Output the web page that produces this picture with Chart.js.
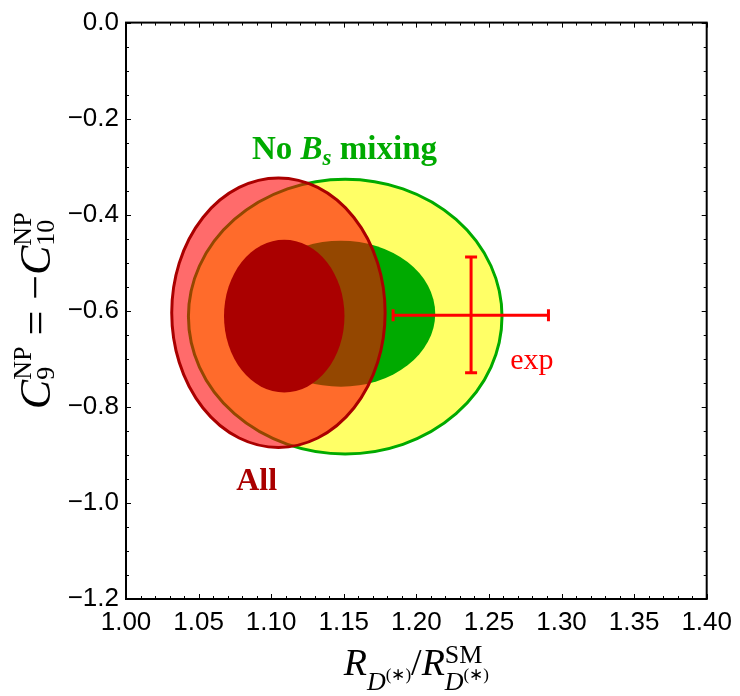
<!DOCTYPE html>
<html>
<head>
<meta charset="utf-8">
<script src="https://cdn.jsdelivr.net/npm/chart.js"></script>
<style>
  body { margin: 0; background: #fff; }
  canvas { display: block; }
</style>
</head>
<body>
<canvas id="regionsChart" width="740" height="696"></canvas>
<script>
// --- data (axis units) ---

// regions: No Bs mixing (2 sigma, 1 sigma), All (2 sigma, 1 sigma)
const regionNames = ['No Bs mixing 2σ', 'No Bs mixing 1σ', 'All 2σ', 'All 1σ']
const regionCentreX = [1.151, 1.148, 1.105, 1.109]
const regionCentreY = [-0.612, -0.606, -0.604, -0.611]
const regionHalfX = [0.108, 0.065, 0.0735, 0.0415]
const regionHalfY = [0.286, 0.152, 0.2805, 0.159]

// experimental point: [low, central, high]
const expX = [1.184, 1.2377, 1.291]
const expY = [-0.729, -0.6095, -0.488]

const xTickLabels = ['1.00', '1.05', '1.10', '1.15', '1.20', '1.25', '1.30', '1.35', '1.40']
const yTickLabels = ['−1.2', '−1.0', '−0.8', '−0.6', '−0.4', '−0.2', '0.0']

// --- styles ---
const regionFill = ['rgb(255,255,102)', 'rgb(0,170,0)', 'rgba(255,0,0,0.58)', 'rgb(170,0,0)']
const regionEdge = ['rgb(0,170,0)', null, 'rgb(170,0,0)', null]
const expColor = 'rgb(255,0,0)'
const serif = '"Liberation Serif", "Times New Roman", serif'

function findLabel(labels, v) {
  const l = labels.find((s) => Math.abs(parseFloat(s.replace('−', '-')) - v) < 1e-6)
  return l || ''
}

// rich text: parts are {t, f, dy} or {stack: [parts, parts]}
function partsWidth(ctx, parts) {
  let w = 0
  for (const p of parts) {
    if (p.stack) {
      w += Math.max(...p.stack.map((s) => partsWidth(ctx, s)))
    } else {
      ctx.font = p.f
      w += ctx.measureText(p.t).width
    }
  }
  return w
}

function drawParts(ctx, parts, x, y) {
  for (const p of parts) {
    if (p.stack) {
      p.stack.forEach((s) => drawParts(ctx, s, x, y))
      x += Math.max(...p.stack.map((s) => partsWidth(ctx, s)))
    } else {
      ctx.font = p.f
      ctx.fillText(p.t, x, y + (p.dy || 0))
      x += ctx.measureText(p.t).width
    }
  }
}

function drawRich(ctx, parts, x, y, align) {
  const w = partsWidth(ctx, parts)
  ctx.textBaseline = 'alphabetic'
  ctx.textAlign = 'left'
  drawParts(ctx, parts, align === 'center' ? x - w / 2 : x, y)
}

const regionsPlugin = {
  id: 'regions',
  beforeDatasetsDraw(chart) {
    const { ctx, chartArea: a, scales: { x, y } } = chart
    ctx.save()
    ctx.beginPath()
    ctx.rect(a.left, a.top, a.width, a.height)
    ctx.clip()
    regionNames.forEach((name, i) => {
      const cx = x.getPixelForValue(regionCentreX[i])
      const cy = y.getPixelForValue(regionCentreY[i])
      const rx = Math.abs(x.getPixelForValue(regionCentreX[i] + regionHalfX[i]) - cx)
      const ry = Math.abs(y.getPixelForValue(regionCentreY[i] + regionHalfY[i]) - cy)
      ctx.beginPath()
      ctx.ellipse(cx, cy, rx, ry, 0, 0, Math.PI * 2)
      ctx.fillStyle = regionFill[i]
      ctx.fill()
      if (regionEdge[i]) {
        ctx.lineWidth = 3
        ctx.strokeStyle = regionEdge[i]
        ctx.stroke()
      }
    })
    ctx.restore()
  }
}

const framePlugin = {
  id: 'frame',
  afterDraw(chart) {
    const { ctx, chartArea: a, scales: { x, y } } = chart
    ctx.save()
    ctx.strokeStyle = '#000'
    ctx.lineWidth = 1
    ctx.beginPath()
    x.ticks.forEach((t) => {
      const px = Math.round(x.getPixelForValue(t.value)) + 0.5
      const len = findLabel(xTickLabels, t.value) ? 5 : 3
      ctx.moveTo(px, a.bottom)
      ctx.lineTo(px, a.bottom - len)
      ctx.moveTo(px, a.top)
      ctx.lineTo(px, a.top + len)
    })
    y.ticks.forEach((t) => {
      const py = Math.round(y.getPixelForValue(t.value)) + 0.5
      const len = findLabel(yTickLabels, t.value) ? 5 : 3
      ctx.moveTo(a.left, py)
      ctx.lineTo(a.left + len, py)
      ctx.moveTo(a.right, py)
      ctx.lineTo(a.right - len, py)
    })
    ctx.stroke()
    ctx.lineWidth = 2
    ctx.strokeRect(a.left, a.top, a.width, a.height)

    // annotations
    ctx.fillStyle = 'rgb(0,170,0)'
    drawRich(ctx, [
      { t: 'No ', f: 'bold 33px ' + serif },
      { t: 'B', f: 'italic bold 33px ' + serif },
      { t: 's', f: 'italic bold 23px ' + serif, dy: 6 },
      { t: ' mixing', f: 'bold 33px ' + serif }
    ], x.getPixelForValue(1.0868), y.getPixelForValue(-0.283))

    ctx.fillStyle = 'rgb(170,0,0)'
    drawRich(ctx, [{ t: 'All', f: 'bold 32px ' + serif }],
      x.getPixelForValue(1.0759), y.getPixelForValue(-0.974))

    ctx.fillStyle = expColor
    drawRich(ctx, [{ t: 'exp', f: '30px ' + serif }],
      x.getPixelForValue(1.2646), y.getPixelForValue(-0.7207))

    // axis titles
    ctx.fillStyle = '#000'
    const dStar = [
      { t: 'D', f: 'italic 26px ' + serif, dy: 15 },
      { t: '(∗)', f: '17px ' + serif, dy: 5 }
    ]
    drawRich(ctx, [
      { t: 'R', f: 'italic 38px ' + serif },
      ...dStar,
      { t: '/', f: '38px ' + serif },
      { t: 'R', f: 'italic 38px ' + serif },
      { stack: [[{ t: 'SM', f: '26px ' + serif, dy: -12 }], dStar] }
    ], (a.left + a.right) / 2, 675, 'center')

    ctx.save()
    ctx.translate(50, (a.top + a.bottom) / 2)
    ctx.rotate(-Math.PI / 2)
    const np = (sub) => ({
      stack: [
        [{ t: 'NP', f: '26px ' + serif, dy: -19 }],
        [{ t: sub, f: '26px ' + serif, dy: 4 }]
      ]
    })
    drawRich(ctx, [
      { t: 'C', f: 'italic 44px ' + serif },
      np('9'),
      { t: ' = −', f: '44px ' + serif },
      { t: 'C', f: 'italic 44px ' + serif },
      np('10')
    ], 0, 0, 'center')
    ctx.restore()
    ctx.restore()
  }
}

const tickFont = { family: '"Liberation Sans", Arial, sans-serif', size: 26 }

new Chart(document.getElementById('regionsChart'), {
  type: 'scatter',
  data: {
    datasets: [
      {
        label: 'exp (horizontal)',
        data: [{ x: expX[0], y: expY[1] }, { x: expX[2], y: expY[1] }],
        showLine: true,
        borderColor: expColor,
        borderWidth: 3,
        pointStyle: 'line',
        pointRotation: 90,
        pointRadius: 6,
        pointBorderWidth: 3,
        pointBorderColor: expColor
      },
      {
        label: 'exp (vertical)',
        data: [{ x: expX[1], y: expY[0] }, { x: expX[1], y: expY[2] }],
        showLine: true,
        borderColor: expColor,
        borderWidth: 3,
        pointStyle: 'line',
        pointRotation: 0,
        pointRadius: 6,
        pointBorderWidth: 3,
        pointBorderColor: expColor
      }
    ]
  },
  options: {
    responsive: false,
    animation: false,
    events: [],
    devicePixelRatio: 1,
    layout: { padding: { top: 15, right: 29, left: 0, bottom: 0 } },
    plugins: {
      legend: { display: false },
      tooltip: { enabled: false }
    },
    scales: {
      x: {
        type: 'linear',
        min: 1.0,
        max: 1.4,
        grid: { display: false, drawTicks: false },
        border: { display: false },
        ticks: {
          stepSize: 0.01,
          maxTicksLimit: 100,
          autoSkip: false,
          maxRotation: 0,
          padding: 8,
          color: '#000',
          font: tickFont,
          callback: (v) => findLabel(xTickLabels, v)
        },
        afterFit: (scale) => { scale.height = 97 }
      },
      y: {
        type: 'linear',
        min: -1.2,
        max: 0,
        grid: { display: false, drawTicks: false },
        border: { display: false },
        ticks: {
          stepSize: 0.05,
          maxTicksLimit: 100,
          autoSkip: false,
          padding: 7,
          color: '#000',
          font: tickFont,
          callback: (v) => findLabel(yTickLabels, v)
        },
        afterFit: (scale) => { scale.width = 126 }
      }
    }
  },
  plugins: [regionsPlugin, framePlugin]
})
</script>
</body>
</html>
